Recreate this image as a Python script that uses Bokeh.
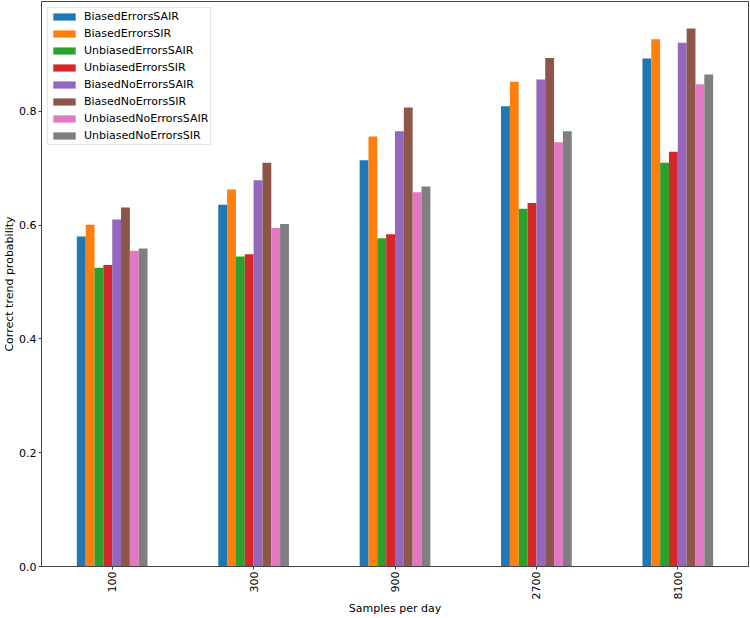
import math
from bokeh.plotting import figure
from bokeh.models import (ColumnDataSource, FactorRange, Range1d, Legend, LegendItem,
                          FixedTicker, CustomJSTickFormatter)
from bokeh.transform import dodge
from bokeh.embed import file_html
from bokeh.resources import INLINE

samples = ["100", "300", "900", "2700", "8100"]
series = ["BiasedErrorsSAIR", "BiasedErrorsSIR", "UnbiasedErrorsSAIR", "UnbiasedErrorsSIR",
          "BiasedNoErrorsSAIR", "BiasedNoErrorsSIR", "UnbiasedNoErrorsSAIR", "UnbiasedNoErrorsSIR"]
colors = ["#1f77b4", "#ff7f0e", "#2ca02c", "#d62728", "#9467bd", "#8c564b", "#e377c2", "#7f7f7f"]

biased_errors_sair = [0.580, 0.636, 0.714, 0.809, 0.893]
biased_errors_sir = [0.601, 0.663, 0.756, 0.852, 0.927]
unbiased_errors_sair = [0.525, 0.545, 0.577, 0.629, 0.710]
unbiased_errors_sir = [0.530, 0.549, 0.584, 0.639, 0.729]
biased_noerrors_sair = [0.610, 0.679, 0.765, 0.856, 0.921]
biased_noerrors_sir = [0.631, 0.710, 0.807, 0.894, 0.946]
unbiased_noerrors_sair = [0.555, 0.595, 0.658, 0.746, 0.848]
unbiased_noerrors_sir = [0.559, 0.602, 0.668, 0.765, 0.865]

y_ticks = [0.0, 0.2, 0.4, 0.6, 0.8]

values = [biased_errors_sair, biased_errors_sir, unbiased_errors_sair, unbiased_errors_sir,
          biased_noerrors_sair, biased_noerrors_sir, unbiased_noerrors_sair, unbiased_noerrors_sir]

data = {"samples": samples}
for name, vals in zip(series, values):
    data[name] = vals
source = ColumnDataSource(data)

FONT = "DejaVu Sans"
n = len(series)
bar_w = 0.5 / n
y_top = max(max(v) for v in values) * 1.05

p = figure(x_range=FactorRange(*samples), y_range=Range1d(0, y_top),
           width=750, height=618, output_backend="svg", toolbar_location=None,
           min_border_left=39, min_border_right=2, min_border_top=1, min_border_bottom=48)

items = []
for j, (name, col) in enumerate(zip(series, colors)):
    off = (j - (n - 1) / 2) * bar_w
    r = p.vbar(x=dodge("samples", off, range=p.x_range), top=name, width=bar_w,
               source=source, fill_color=col, line_color=None)
    items.append(LegendItem(label=name, renderers=[r]))

p.xgrid.visible = False
p.ygrid.visible = False
p.outline_line_color = "#444444"
p.outline_line_width = 1

p.yaxis.ticker = FixedTicker(ticks=y_ticks)
p.yaxis.formatter = CustomJSTickFormatter(code="return tick.toFixed(1);")

for ax in (p.xaxis[0], p.yaxis[0]):
    ax.axis_line_color = "#444444"
    ax.major_tick_line_color = "#444444"
    ax.minor_tick_line_color = None
    ax.major_tick_out = 3
    ax.major_tick_in = 0
    ax.major_label_text_font = FONT
    ax.major_label_text_font_size = "11px"
    ax.major_label_text_color = "#000000"
    ax.axis_label_text_font = FONT
    ax.axis_label_text_font_size = "11px"
    ax.axis_label_text_font_style = "normal"
    ax.axis_label_text_color = "#000000"

p.xaxis.axis_label = "Samples per day"
p.yaxis.axis_label = "Correct trend probability"
p.xaxis.major_label_orientation = math.pi / 2
p.xaxis.major_label_standoff = 2
p.xaxis.axis_label_standoff = 0
p.yaxis.major_label_standoff = 2
p.yaxis.axis_label_standoff = 0

legend = Legend(items=items, location="top_left")
legend.label_text_font = FONT
legend.label_text_font_size = "11px"
legend.label_text_color = "#000000"
legend.glyph_width = 28
legend.glyph_height = 9
legend.label_height = 12
legend.label_standoff = 6
legend.spacing = 4
legend.padding = 2
legend.margin = 6
legend.border_line_color = "#cccccc"
legend.background_fill_alpha = 0.8
p.add_layout(legend)

open("out.html", "w").write(file_html(p, INLINE))
